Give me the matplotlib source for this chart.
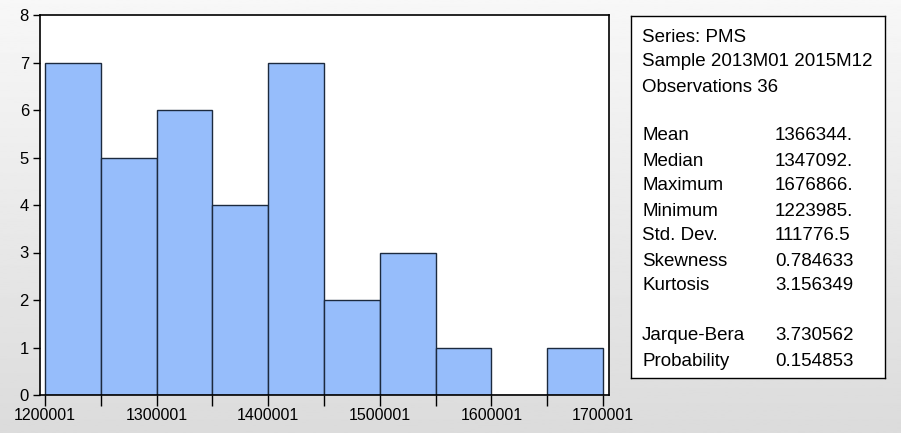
import numpy as np
import matplotlib
matplotlib.use("Agg")
import matplotlib.pyplot as plt

# histogram of PMS, bin width 50000
bin_edges = [1200001, 1250001, 1300001, 1350001, 1400001, 1450001,
             1500001, 1550001, 1600001, 1650001, 1700001]
counts = [7, 5, 6, 4, 7, 2, 3, 1, 0, 1]
xticks = [1200001, 1300001, 1400001, 1500001, 1600001, 1700001]

header = ["Series: PMS", "Sample 2013M01 2015M12", "Observations 36"]
stat_names = ["Mean", "Median", "Maximum", "Minimum", "Std. Dev.",
              "Skewness", "Kurtosis"]
stat_values = ["1366344.", "1347092.", "1676866.", "1223985.", "111776.5",
               "0.784633", "3.156349"]
test_names = ["Jarque-Bera", "Probability"]
test_values = ["3.730562", "0.154853"]

plt.rcParams['font.family'] = ['Liberation Sans', 'DejaVu Sans']

W, H = 901, 433
fig = plt.figure(figsize=(W / 100, H / 100), dpi=100)

# light grey gradient background
bg = fig.add_axes([0, 0, 1, 1], zorder=-10)
grad = np.linspace(0.97, 0.86, 256).reshape(-1, 1)
bg.imshow(grad, aspect='auto', cmap='gray', vmin=0, vmax=1, extent=[0, 1, 0, 1])
bg.axis('off')

# histogram axes: pixel box x 40..609, y 15..395
ax = fig.add_axes([40 / W, 1 - 395 / H, 569 / W, 380 / H])
widths = np.diff(bin_edges)
ax.bar(bin_edges[:-1], counts, width=widths, align='edge',
       color='#96bdfb', edgecolor='#1c2a3e', linewidth=1.0)
ax.set_xlim(1195500, 1705400)
ax.set_ylim(0, 8)
ax.set_xticks(xticks)
ax.set_xticklabels([str(v) for v in xticks])
ax.set_xticks(bin_edges, minor=True)
ax.set_yticks(range(9))
ax.tick_params(axis='both', direction='out', color='black')
ax.tick_params(axis='x', which='major', length=8, width=1, pad=1, labelsize=11.5)
ax.tick_params(axis='x', which='minor', length=8, width=1)
ax.tick_params(axis='y', length=5, width=1, pad=3, labelsize=12)
for s in ax.spines.values():
    s.set_linewidth(1.2)
ax.set_facecolor('white')

# stats box: pixel x 631..885, y 16..378
box = fig.add_axes([631 / W, 1 - 378 / H, 254 / W, 362 / H])
box.set_xticks([])
box.set_yticks([])
box.set_facecolor('white')
for s in box.spines.values():
    s.set_linewidth(1.0)

def put(px, py, txt):
    fig.text(px / W, 1 - py / H, txt, fontsize=13.5, va='center', ha='left')

y = 37
for t in header:
    put(642, y, t)
    y += 25
y = 136
for n, v in zip(stat_names, stat_values):
    put(642, y, n)
    put(775, y, v)
    y += 25
y = 336
for n, v in zip(test_names, test_values):
    put(642, y, n)
    put(775, y, v)
    y += 25

fig.savefig("out.png", dpi=100)
